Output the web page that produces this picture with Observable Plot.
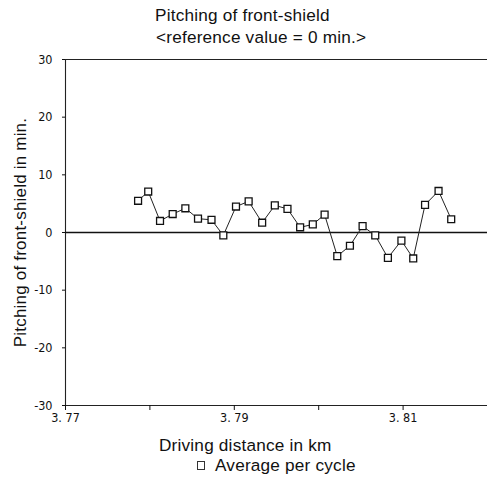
<!DOCTYPE html>
<html>
<head>
<meta charset="utf-8">
<script src="https://cdn.jsdelivr.net/npm/d3@7"></script>
<script src="https://cdn.jsdelivr.net/npm/@observablehq/plot@0.6"></script>
<style>
  html, body { margin: 0; padding: 0; background: #fff; }
  #wrap { position: relative; width: 487px; height: 480px; overflow: hidden; font-family: "Liberation Sans", Arial, sans-serif; color: #111; }
  .t { position: absolute; white-space: nowrap; font-size: 17.2px; line-height: 1; letter-spacing: 0.2px; }
  #chart { position: absolute; left: 0; top: 0; }
  #chart svg text { font-family: "Liberation Sans Narrow", "DejaVu Sans Condensed", sans-serif; }
  g[aria-label="y-axis label"] text { font-family: "Liberation Sans", Arial, sans-serif !important; font-size: 17px; letter-spacing: 0.2px; }
</style>
</head>
<body>
<div id="wrap">
  <div id="chart"></div>
  <div class="t" style="left:155px; top:7px;">Pitching of front-shield</div>
  <div class="t" style="left:156px; top:29px;">&lt;reference value = 0 min.&gt;</div>
  <div class="t" style="left:159px; top:437px;">Driving distance in km</div>
  <div class="t" style="left:197px; top:457px;"><span style="display:inline-block;width:6px;height:7px;border:1.2px solid #333;margin-right:10px;vertical-align:1px;"></span>Average per cycle</div>
</div>
<script>
// Driving distance (km) of each cycle
const distance = [3.7786, 3.7798, 3.7812, 3.7827, 3.7842, 3.7857, 3.7873, 3.7887, 3.7902, 3.7917,
                  3.7933, 3.7948, 3.7963, 3.7978, 3.7993, 3.8007, 3.8022, 3.8037, 3.8052, 3.8067,
                  3.8082, 3.8098, 3.8112, 3.8126, 3.8142, 3.8157];
// Average pitching per cycle (min.)
const pitch = [5.5, 7.1, 2.0, 3.2, 4.2, 2.4, 2.2, -0.5, 4.5, 5.4,
               1.7, 4.7, 4.1, 0.9, 1.4, 3.1, -4.1, -2.3, 1.1, -0.5,
               -4.4, -1.4, -4.5, 4.8, 7.2, 2.3];
const xTicks = [3.77, 3.78, 3.79, 3.80, 3.81];
const xTickLabels = ["3. 77", "", "3. 79", "", "3. 81"];
const yTicks = [-30, -20, -10, 0, 10, 20, 30];
const xDomain = [3.77, 3.82];
const yDomain = [-30, 30];
const referenceValue = [0];

const data = distance.map((d, i) => ({d, p: pitch[i]}));

const chart = Plot.plot({
  width: 487,
  height: 480,
  marginLeft: 65,
  marginRight: 0,
  marginTop: 59,
  marginBottom: 75,
  style: {background: "#fff", color: "#111", fontSize: "12.5px"},
  x: {domain: xDomain},
  y: {domain: yDomain},
  marks: [
    Plot.ruleY(yDomain, {stroke: "#222", strokeWidth: 1.1}),
    Plot.ruleX([xDomain[0]], {stroke: "#222", strokeWidth: 1.1}),
    Plot.ruleY(referenceValue, {stroke: "#111", strokeWidth: 1.3}),
    Plot.axisX({ticks: xTicks, tickFormat: (d, i) => xTickLabels[i], tickSize: 5, tickPadding: 3, label: null}),
    Plot.axisY({ticks: yTicks, tickFormat: d => String(d), tickSize: 3, tickPadding: 10,
                label: "Pitching of front-shield in min.", labelAnchor: "center", labelArrow: "none", labelOffset: 52}),
    Plot.line(data, {x: "d", y: "p", stroke: "#222", strokeWidth: 1}),
    Plot.dot(data, {x: "d", y: "p", symbol: "square", r: 3.9, fill: "#fff", stroke: "#111", strokeWidth: 1.3})
  ]
});
document.getElementById("chart").appendChild(chart);
</script>
</body>
</html>
